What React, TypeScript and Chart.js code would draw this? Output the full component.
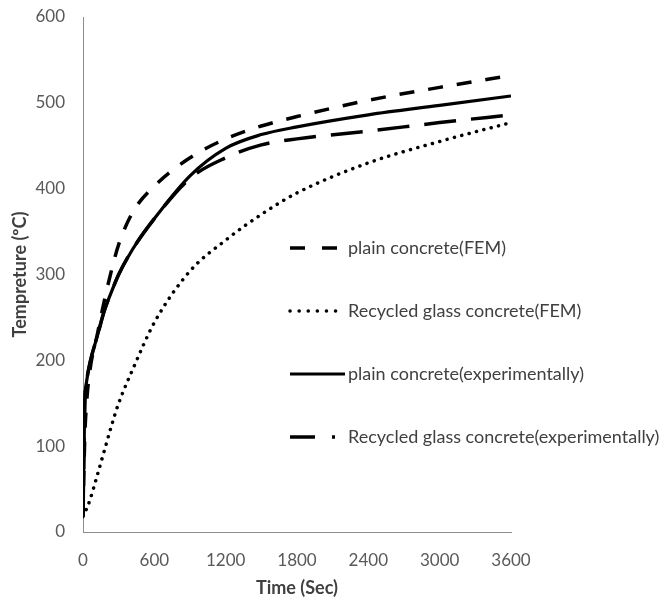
import React, { useEffect, useRef } from "react";
import { Chart, registerables } from "chart.js";

Chart.register(...registerables);

const times = [0, 15, 30, 60, 120, 180, 240, 300, 420, 600, 900, 1200, 1500, 1800, 2400, 3000, 3600];
const plainFEM = [20, 110, 150, 190, 230, 270, 305, 335, 373, 403, 436, 458, 473, 484, 503, 518, 532];
const glassFEM = [18, 22, 27, 38, 66, 95, 124, 150, 190, 244, 304, 340, 370, 395, 430, 455, 477];
const plainExp = [18, 150, 175, 198, 228, 258, 280, 300, 330, 365, 415, 447, 463, 472, 486, 497, 508];
const glassExp = [18, 150, 175, 198, 228, 258, 280, 300, 330, 365, 412, 436, 451, 458, 467, 477, 486];
const seriesLabels = [
  "plain concrete(FEM)",
  "Recycled glass concrete(FEM)",
  "plain concrete(experimentally)",
  "Recycled glass concrete(experimentally)",
];
const xTicks = [0, 600, 1200, 1800, 2400, 3000, 3600];
const yTicks = [0, 100, 200, 300, 400, 500, 600];

const pts = (vals: number[]) => times.map((t, i) => ({ x: t, y: vals[i] }));

const insideLegend = {
  id: "insideLegend",
  afterDraw(chart: any) {
    const ctx = chart.ctx;
    chart.data.datasets.forEach((ds: any, i: number) => {
      const y = 248 + i * 63;
      ctx.save();
      ctx.strokeStyle = ds.borderColor;
      ctx.lineWidth = ds.borderWidth;
      ctx.setLineDash(ds.legendDash || ds.borderDash || []);
      ctx.lineCap = ds.borderCapStyle || "butt";
      ctx.beginPath();
      ctx.moveTo(290, y);
      ctx.lineTo(ds.legendEnd || 345, y);
      ctx.stroke();
      ctx.setLineDash([]);
      ctx.fillStyle = "#404040";
      ctx.font = "18px Lato";
      ctx.textBaseline = "middle";
      ctx.textAlign = "left";
      ctx.fillText(ds.label, 348, y);
      ctx.restore();
    });
  },
};

export default function App() {
  const ref = useRef<HTMLCanvasElement | null>(null);
  useEffect(() => {
    if (!ref.current) return;
    const common = {
      borderColor: "#000000",
      pointRadius: 0,
      fill: false,
      cubicInterpolationMode: "monotone" as const,
    };
    const chart = new Chart(ref.current, {
      type: "line",
      data: {
        datasets: [
          { ...common, label: seriesLabels[0], data: pts(plainFEM), borderWidth: 3.5, borderDash: [15, 14], legendDash: [15, 17], legendEnd: 338 } as any,
          { ...common, label: seriesLabels[1], data: pts(glassFEM), borderWidth: 3.5, borderDash: [0.1, 7.5], legendDash: [0.1, 9], borderCapStyle: "round", legendEnd: 336 } as any,
          { ...common, label: seriesLabels[2], data: pts(plainExp), borderWidth: 3.2 },
          { ...common, label: seriesLabels[3], data: pts(glassExp), borderWidth: 3.5, borderDash: [32, 15], legendDash: [25, 17], legendEnd: 335 } as any,
        ],
      },
      options: {
        animation: false,
        responsive: true,
        maintainAspectRatio: false,
        layout: { padding: { left: 0, right: 154, top: 17, bottom: 0 } },
        plugins: { legend: { display: false }, tooltip: { enabled: false } },
        scales: {
          x: {
            type: "linear",
            min: 0,
            max: 3600,
            afterBuildTicks: (s: any) => { s.ticks = xTicks.map((v) => ({ value: v })); },
            afterFit: (s: any) => { s.height = 68; s.paddingLeft = 0; s.paddingRight = 0; },
            grid: { display: false, drawTicks: false },
            border: { display: true, color: "#8c8c8c", width: 1 },
            ticks: { padding: 18, color: "#595959", font: { family: "Lato", size: 17 }, maxRotation: 0, callback: (v: any) => String(v) },
            title: { display: true, text: "Time (Sec)", color: "#404040", font: { family: "Lato", size: 18, weight: "bold" }, padding: { top: 0, bottom: 1 } },
          },
          y: {
            type: "linear",
            min: 0,
            max: 600,
            afterBuildTicks: (s: any) => { s.ticks = yTicks.map((v) => ({ value: v })); },
            afterFit: (s: any) => { s.width = 83; s.paddingTop = 0; s.paddingBottom = 0; },
            grid: { display: false, drawTicks: false },
            border: { display: true, color: "#8c8c8c", width: 1 },
            ticks: { padding: 18, color: "#595959", font: { family: "Lato", size: 17 }, callback: (v: any) => String(v) },
            title: { display: true, text: "Tempreture (ºC)", color: "#404040", font: { family: "Lato", size: 18, weight: "bold" }, padding: { top: 9, bottom: 0 } },
          },
        },
      },
      plugins: [insideLegend],
    });
    return () => chart.destroy();
  }, []);
  return (
    <div style={{ position: "absolute", left: 0, top: 0, width: 665, height: 600, background: "#ffffff" }}>
      <canvas ref={ref} />
    </div>
  );
}
